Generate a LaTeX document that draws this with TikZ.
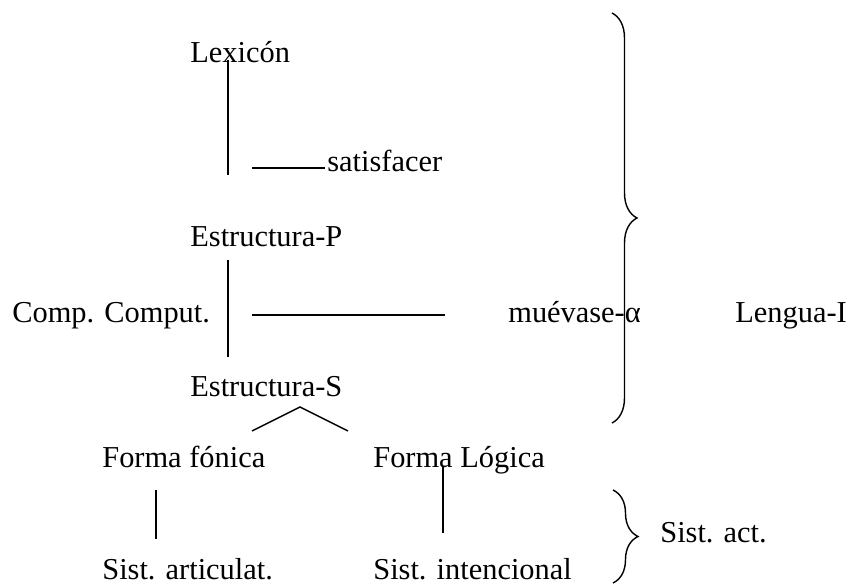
\documentclass[tikz,border=0pt]{standalone}
\usepackage{fontspec}
\setmainfont{Liberation Serif}
\usepackage{tikz}
\usetikzlibrary{positioning}
\usetikzlibrary{decorations.pathreplacing}

\begin{document}
\begin{tikzpicture}[scale=1.0,
  txt/.style={anchor=base west,inner sep=0pt,font=\fontsize{17.3}{20}\selectfont},
  bar/.style={line width=0.8pt},
  curly/.style={line width=0.8pt,decorate,decoration={brace,amplitude=0.5cm}}]
\useasboundingbox (0cm,0cm) rectangle (17.02cm,11.7cm);

\node[txt] (lexicon) at (3.8cm,10.44cm) {Lexicón};
\node[txt] (satisf) at (6.54cm,8.26cm) {satisfacer};
\node[txt] (estp) at (3.8cm,6.76cm) {Estructura-P};
\node[txt] (comp) at (0.24cm,5.24cm) {Comp. Comput.};
\node[txt] (muevase) at (10.16cm,5.24cm) {muévase-α};
\node[txt] (lengua) at (14.7cm,5.24cm) {Lengua-I};
\node[txt] (ests) at (3.8cm,3.76cm) {Estructura-S};
\node[txt] (fonica) at (2.04cm,2.34cm) {Forma fónica};
\node[txt] (logica) at (7.46cm,2.34cm) {Forma Lógica};
\node[txt] (artic) at (2.04cm,0.1cm) {Sist. articulat.};
\node[txt] (intenc) at (7.46cm,0.1cm) {Sist. intencional};
\node[txt] (sistact) at (13.2cm,0.84cm) {Sist. act.};

\draw[bar] (4.56cm,10.5cm) -- (4.56cm,8.2cm);
\draw[bar] (5.04cm,8.34cm) -- (6.5cm,8.34cm);
\draw[bar] (4.56cm,6.5cm) -- (4.56cm,4.56cm);
\draw[bar] (5.04cm,5.4cm) -- (8.9cm,5.4cm);
\draw[bar] (5.04cm,3.08cm) -- (6.0cm,3.56cm) -- (6.96cm,3.08cm);
\draw[bar] (3.12cm,1.9cm) -- (3.12cm,0.92cm);
\draw[bar] (8.86cm,2.36cm) -- (8.86cm,1.04cm);

\draw[curly] (12.24cm,11.44cm) -- (12.24cm,3.24cm);
\draw[curly] (12.26cm,1.9cm) -- (12.26cm,0.04cm);

\end{tikzpicture}
\end{document}
